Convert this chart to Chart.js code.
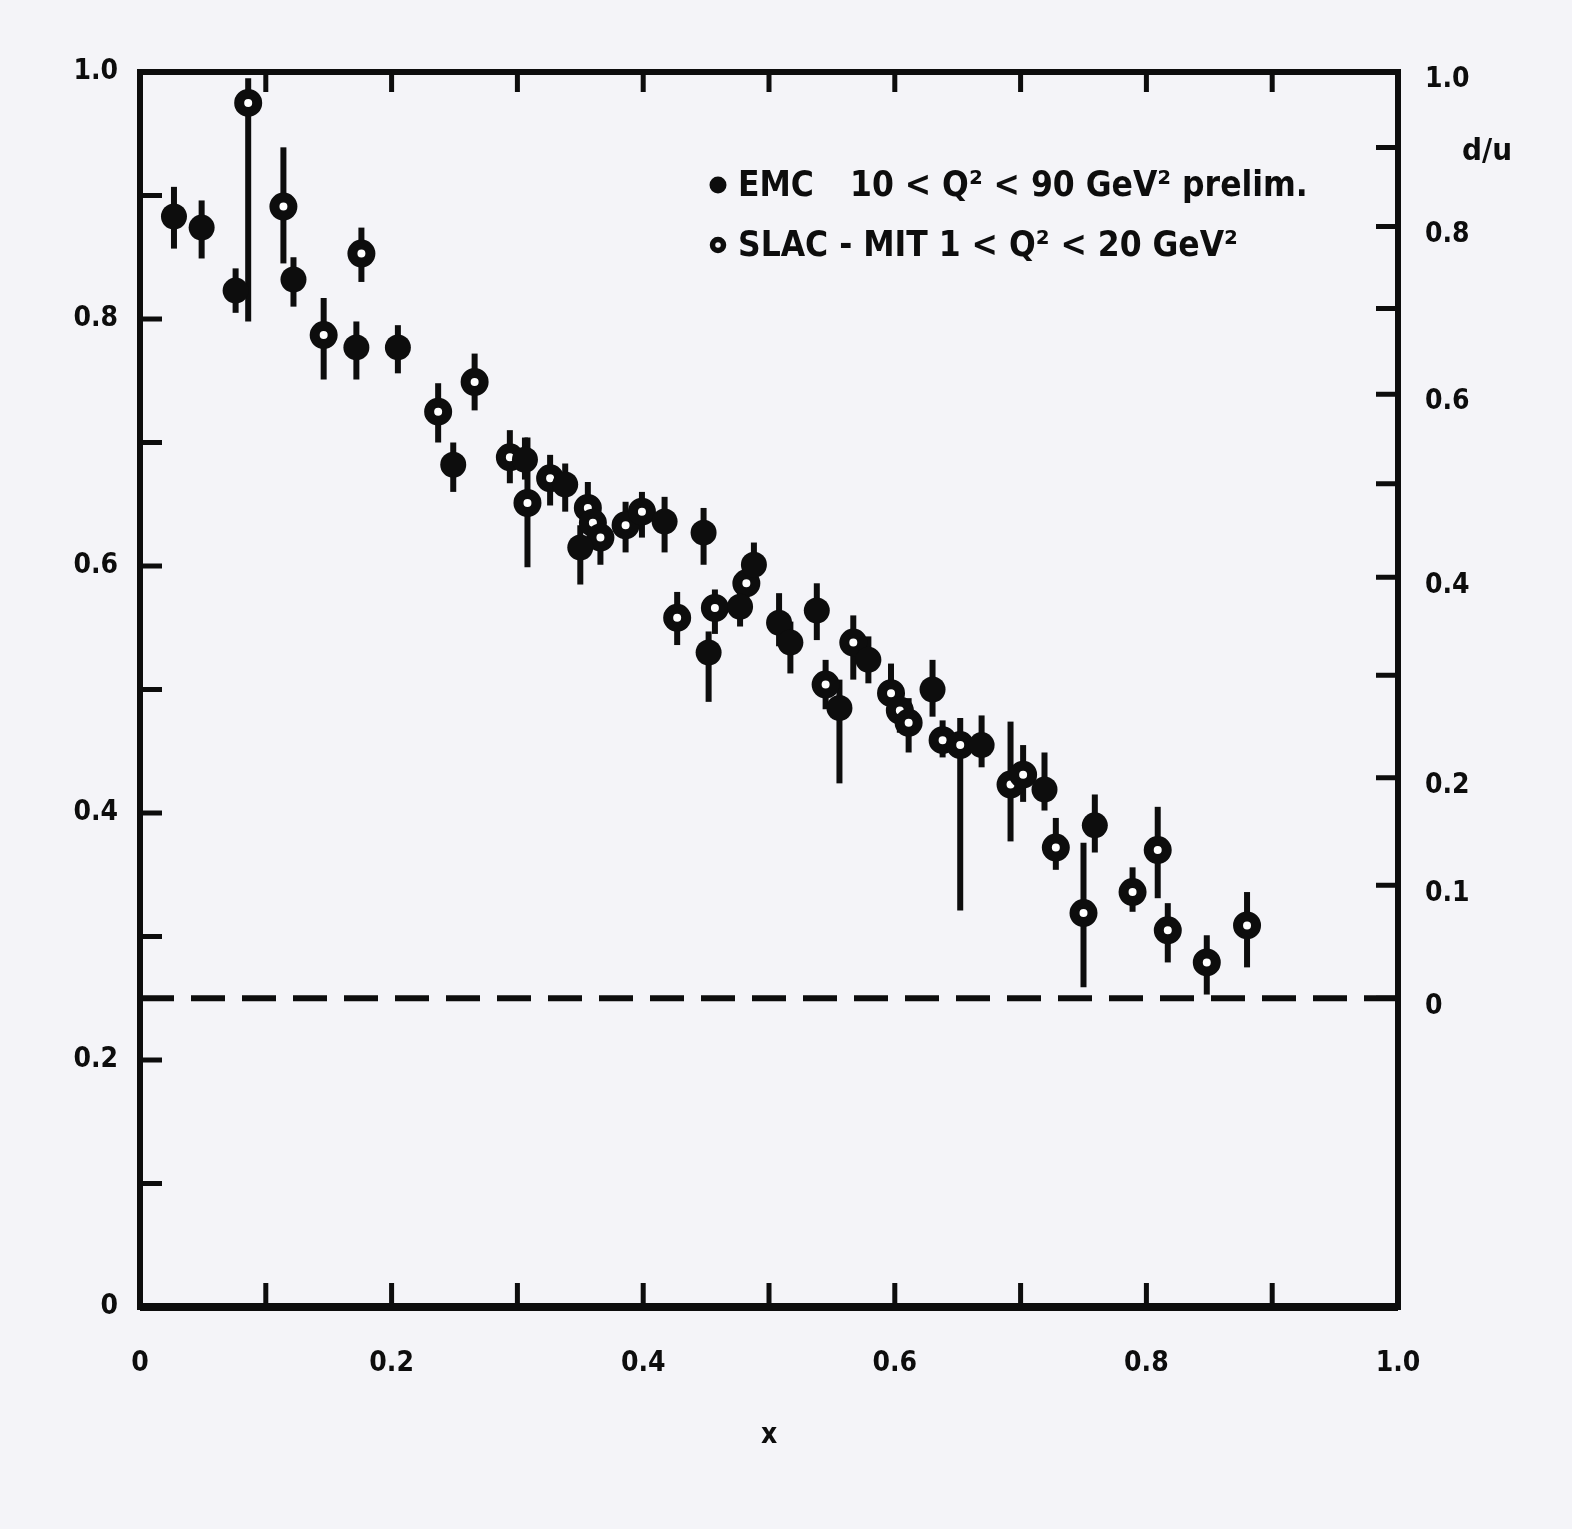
<!DOCTYPE html>
<html lang="en">
<head>
    <meta charset="UTF-8">
    <title>F2n/F2p and d/u vs x</title>
    <script src="https://cdn.jsdelivr.net/npm/chart.js"></script>
    <style>
        html, body { margin:0; padding:0; background:#f4f4f8; }
        #wrap { width:1572px; height:1529px; }
    </style>
</head>
<body>
    <div id="wrap">
        <canvas id="myChart" width="1572" height="1529"></canvas>
    </div>

    <script>
        // EMC 10 < Q2 < 90 GeV2 (filled points)
        const emcX  = [0.027, 0.049, 0.076, 0.122, 0.172, 0.205, 0.249, 0.306, 0.338, 0.350, 0.417, 0.448, 0.452, 0.477, 0.488, 0.508, 0.517, 0.538, 0.556, 0.579, 0.630, 0.669, 0.719, 0.759];
        const emcY  = [0.883, 0.874, 0.823, 0.832, 0.777, 0.777, 0.682, 0.686, 0.666, 0.615, 0.636, 0.627, 0.530, 0.567, 0.601, 0.554, 0.538, 0.564, 0.485, 0.524, 0.500, 0.455, 0.419, 0.390];
        const emcLo = [0.857, 0.849, 0.805, 0.810, 0.751, 0.756, 0.660, 0.670, 0.644, 0.585, 0.611, 0.601, 0.490, 0.551, 0.585, 0.535, 0.513, 0.540, 0.424, 0.505, 0.478, 0.437, 0.402, 0.368];
        const emcHi = [0.907, 0.896, 0.841, 0.850, 0.798, 0.795, 0.700, 0.704, 0.683, 0.633, 0.656, 0.647, 0.547, 0.581, 0.619, 0.578, 0.555, 0.586, 0.508, 0.543, 0.524, 0.479, 0.449, 0.415];

        // SLAC-MIT 1 < Q2 < 20 GeV2 (open points)
        const slacX  = [0.086, 0.114, 0.146, 0.176, 0.237, 0.266, 0.294, 0.308, 0.326, 0.356, 0.360, 0.366, 0.386, 0.399, 0.427, 0.457, 0.482, 0.545, 0.567, 0.597, 0.604, 0.611, 0.638, 0.652, 0.692, 0.702, 0.728, 0.750, 0.789, 0.809, 0.817, 0.848, 0.880];
        const slacY  = [0.975, 0.891, 0.787, 0.853, 0.725, 0.749, 0.688, 0.651, 0.671, 0.647, 0.635, 0.623, 0.633, 0.644, 0.558, 0.566, 0.586, 0.504, 0.538, 0.497, 0.483, 0.473, 0.459, 0.455, 0.423, 0.431, 0.372, 0.319, 0.336, 0.370, 0.305, 0.279, 0.309];
        const slacLo = [0.798, 0.845, 0.751, 0.830, 0.700, 0.726, 0.667, 0.599, 0.649, 0.627, 0.615, 0.601, 0.611, 0.623, 0.536, 0.545, 0.568, 0.484, 0.508, 0.477, 0.465, 0.449, 0.445, 0.321, 0.377, 0.409, 0.354, 0.259, 0.320, 0.331, 0.279, 0.253, 0.275];
        const slacHi = [0.995, 0.939, 0.817, 0.874, 0.748, 0.772, 0.710, 0.704, 0.690, 0.668, 0.655, 0.640, 0.652, 0.660, 0.579, 0.581, 0.606, 0.524, 0.560, 0.521, 0.503, 0.493, 0.475, 0.477, 0.474, 0.455, 0.396, 0.376, 0.356, 0.405, 0.327, 0.301, 0.336];

        // tick labels
        const xTickLabels = ['0', '', '0.2', '', '0.4', '', '0.6', '', '0.8', '', '1.0'];
        const yTickLabels = ['0', '', '0.2', '', '0.4', '', '0.6', '', '0.8', '', '1.0'];
        const duTickValues = [0, 0.1, 0.2, 0.3, 0.4, 0.5, 0.6, 0.7, 0.8, 0.9, 1.0];
        const duTickLabels = ['0', '0.1', '0.2', '', '0.4', '', '0.6', '', '0.8', '', '1.0'];

        // F2n/F2p = (1 + 4 d/u) / (4 + d/u)
        const duToRatio = (r) => (1 + 4 * r) / (4 + r);

        const ink = '#0d0d0d';
        const paper = '#f4f4f8';
        const labelFont = { family: 'DejaVu Sans Condensed', size: 28, weight: 'bold' };

        const toPoints = (xs, ys) => xs.map((x, i) => ({ x: x, y: ys[i] }));

        const bgPlugin = {
            id: 'bg',
            beforeDraw(chart) {
                const c = chart.ctx;
                c.save();
                c.fillStyle = paper;
                c.fillRect(0, 0, chart.width, chart.height);
                c.restore();
            }
        };

        // vertical error bars, drawn under the markers
        const errorBars = {
            id: 'errorBars',
            beforeDatasetsDraw(chart) {
                const c = chart.ctx, xs = chart.scales.x, ys = chart.scales.y;
                c.save();
                c.strokeStyle = ink;
                c.lineWidth = 6;
                const draw = (X, L, H) => {
                    X.forEach((x, i) => {
                        const px = xs.getPixelForValue(x);
                        c.beginPath();
                        c.moveTo(px, ys.getPixelForValue(L[i]));
                        c.lineTo(px, ys.getPixelForValue(H[i]));
                        c.stroke();
                    });
                };
                draw(emcX, emcLo, emcHi);
                draw(slacX, slacLo, slacHi);
                c.restore();
            }
        };

        // frame, inward ticks, legend
        const frame = {
            id: 'frame',
            afterDraw(chart) {
                const c = chart.ctx, a = chart.chartArea;
                const xs = chart.scales.x, ys = chart.scales.y, y2 = chart.scales.y2;
                c.save();
                c.strokeStyle = ink;
                c.lineWidth = 5;
                c.lineCap = 'butt';
                c.beginPath();
                xs.ticks.forEach(t => {
                    const px = xs.getPixelForValue(t.value);
                    c.moveTo(px, a.bottom); c.lineTo(px, a.bottom - 24);
                    c.moveTo(px, a.top); c.lineTo(px, a.top + 20);
                });
                ys.ticks.forEach(t => {
                    const py = ys.getPixelForValue(t.value);
                    c.moveTo(a.left, py); c.lineTo(a.left + 22, py);
                });
                y2.ticks.forEach(t => {
                    const py = y2.getPixelForValue(t.value);
                    c.moveTo(a.right, py); c.lineTo(a.right - 22, py);
                });
                c.stroke();
                c.lineWidth = 6;
                c.strokeRect(a.left, a.top, a.right - a.left, a.bottom - a.top);
                c.lineWidth = 8;
                c.beginPath();
                c.moveTo(a.left, a.bottom); c.lineTo(a.right, a.bottom);
                c.stroke();

                // d/u axis title
                c.fillStyle = ink;
                c.font = 'bold 31px "DejaVu Sans Condensed"';
                c.textAlign = 'left';
                c.textBaseline = 'middle';
                c.fillText('d/u', a.right + 64, y2.getPixelForValue(duToRatio(0.9)) + 4);

                // legend
                c.beginPath();
                c.arc(718, 185, 8.5, 0, Math.PI * 2);
                c.fill();
                c.beginPath();
                c.arc(718, 245, 5.5, 0, Math.PI * 2);
                c.lineWidth = 5.5;
                c.stroke();
                c.font = 'bold 35px "DejaVu Sans Condensed"';
                c.fillText('EMC', 738, 187);
                c.fillText('10 < Q² < 90 GeV² prelim.', 850, 187);
                c.fillText('SLAC - MIT 1 < Q² < 20 GeV²', 738, 247);
                c.restore();
            }
        };

        const ctx = document.querySelector('#myChart').getContext('2d');

        const myChart = new Chart(ctx, {
            type: 'scatter',
            data: {
                datasets: [
                    {
                        label: 'EMC',
                        data: toPoints(emcX, emcY),
                        pointStyle: 'circle',
                        pointRadius: 13,
                        backgroundColor: ink,
                        borderColor: ink,
                        borderWidth: 0,
                        clip: false,
                        order: 1
                    },
                    {
                        label: 'SLAC-MIT',
                        data: toPoints(slacX, slacY),
                        pointStyle: 'circle',
                        pointRadius: 9,
                        backgroundColor: '#ffffff',
                        borderColor: ink,
                        borderWidth: 10,
                        clip: false,
                        order: 2
                    },
                    {
                        type: 'line',
                        label: 'd/u = 0',
                        data: [{ x: 0, y: duToRatio(0) }, { x: 1, y: duToRatio(0) }],
                        borderColor: ink,
                        borderWidth: 6,
                        borderDash: [34, 17],
                        pointRadius: 0,
                        order: 3
                    }
                ]
            },
            options: {
                responsive: false,
                animation: false,
                layout: { padding: { top: 72, left: 0, right: 0, bottom: 0 } },
                plugins: { legend: { display: false }, tooltip: { enabled: false } },
                scales: {
                    x: {
                        type: 'linear', position: 'bottom', min: 0, max: 1,
                        grid: { display: false, drawTicks: false },
                        border: { display: false },
                        ticks: {
                            stepSize: 0.1, autoSkip: false, maxRotation: 0, padding: 40,
                            color: ink, font: labelFont,
                            callback: (v, i) => xTickLabels[i]
                        },
                        title: { display: true, text: 'x', color: ink, font: labelFont, padding: { top: 0, bottom: 76 } },
                        afterFit: (s) => { s.height = 222; }
                    },
                    y: {
                        type: 'linear', position: 'left', min: 0, max: 1,
                        grid: { display: false, drawTicks: false },
                        border: { display: false },
                        ticks: {
                            stepSize: 0.1, autoSkip: false, padding: 22,
                            color: ink, font: labelFont,
                            callback: (v, i) => yTickLabels[i]
                        },
                        afterFit: (s) => { s.width = 140; }
                    },
                    y2: {
                        type: 'linear', position: 'right', min: 0, max: 1,
                        grid: { display: false, drawTicks: false },
                        border: { display: false },
                        afterBuildTicks: (s) => { s.ticks = duTickValues.map(r => ({ value: duToRatio(r) })); },
                        ticks: {
                            autoSkip: false, padding: 27, labelOffset: 8,
                            color: ink, font: labelFont,
                            callback: (v, i) => duTickLabels[i]
                        },
                        afterFit: (s) => { s.width = 174; }
                    }
                }
            },
            plugins: [bgPlugin, errorBars, frame]
        });
    </script>
</body>
</html>
